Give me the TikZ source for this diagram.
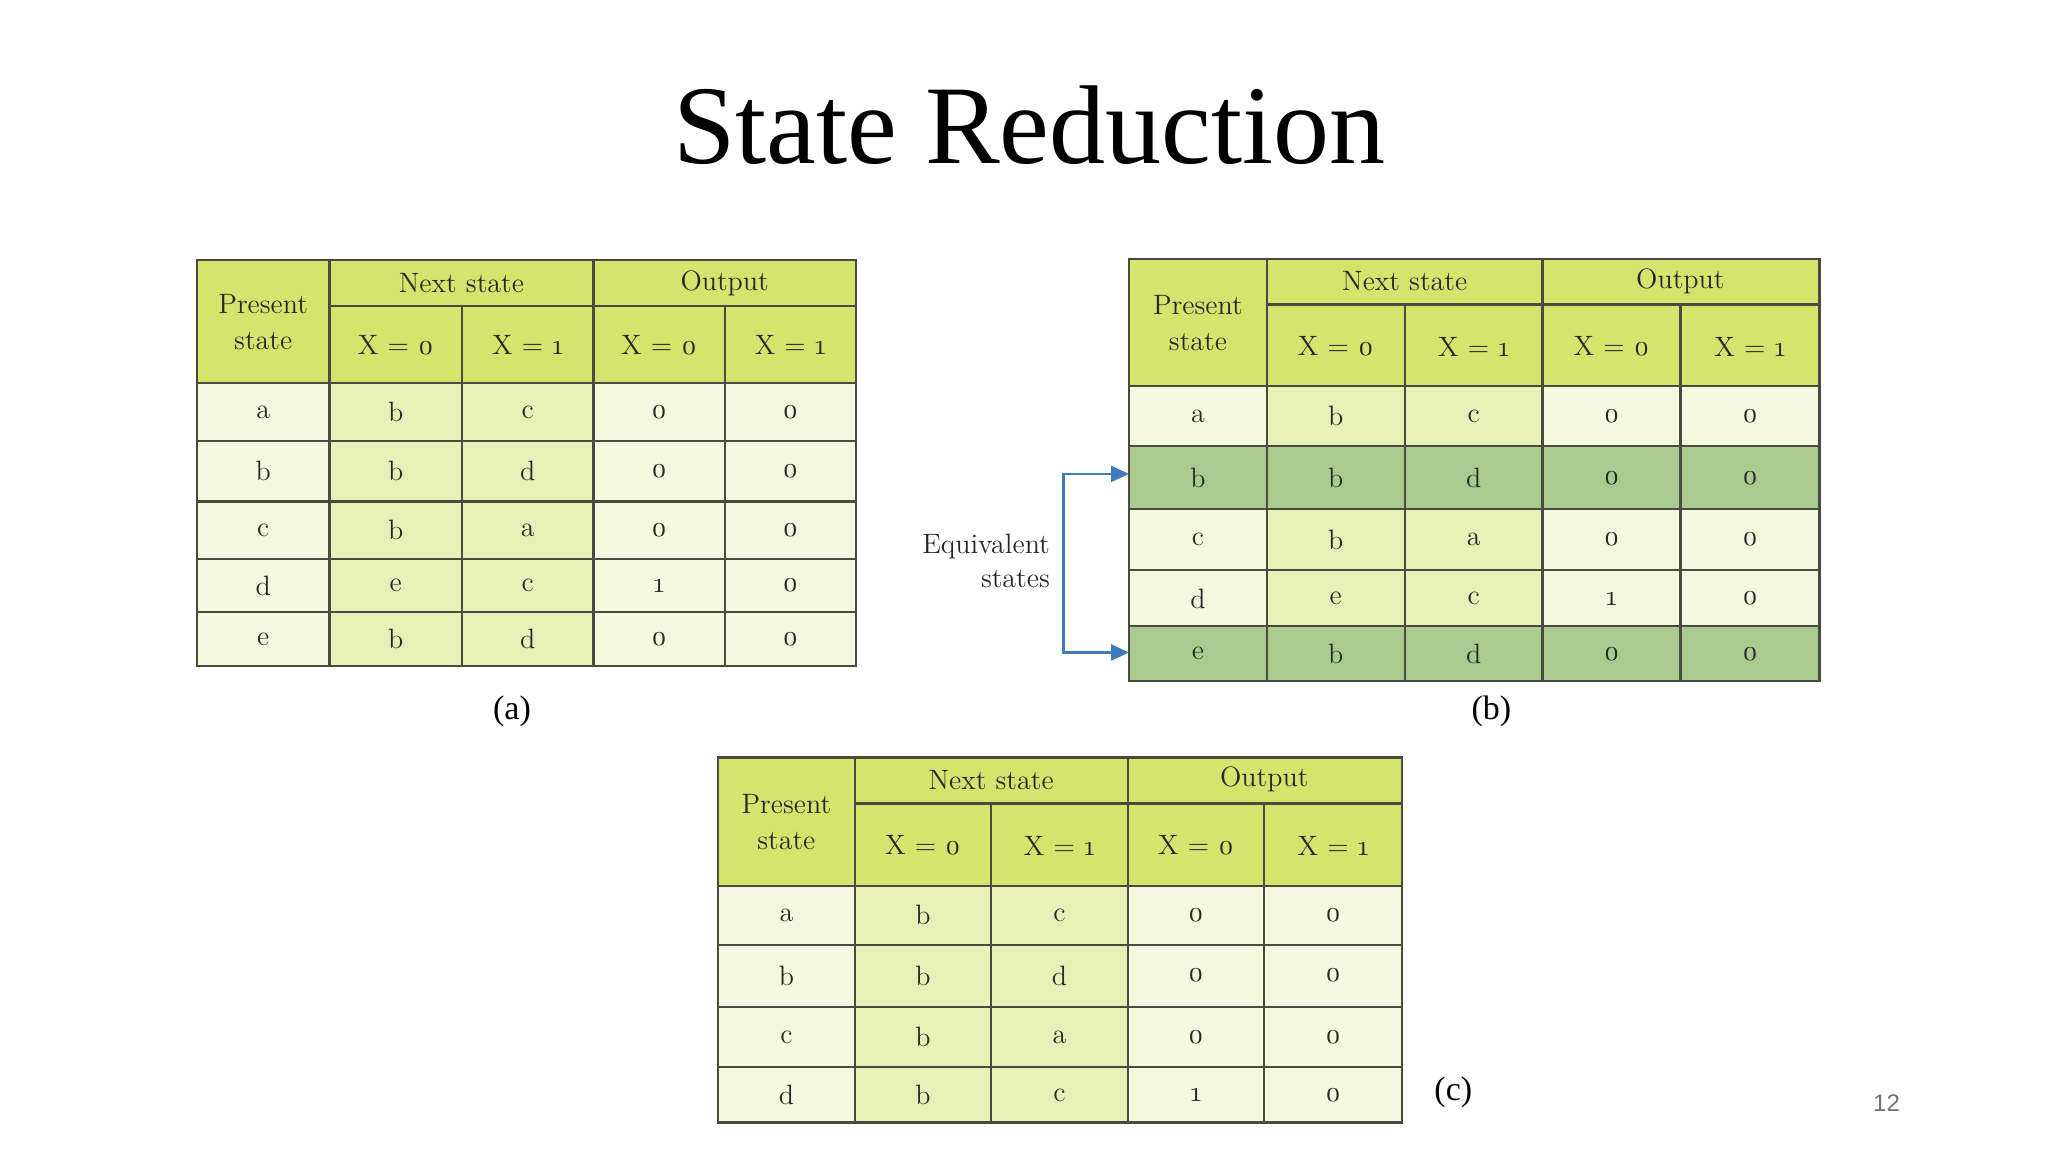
\documentclass[tikz,border=0pt]{standalone}
\usepackage{fontspec}
\setmainfont{Liberation Serif}
\newfontfamily\tabfont{Latin Modern Roman}
\newfontfamily\pgfont{Liberation Sans}
\usetikzlibrary{arrows.meta}
\definecolor{hdr}{HTML}{D4E46C}
\definecolor{lt}{HTML}{F4F8DE}
\definecolor{md}{HTML}{E7F0B6}
\definecolor{eqc}{HTML}{A9CB8E}
\definecolor{gridc}{HTML}{4A4A40}
\definecolor{arrc}{HTML}{3F7DB8}
\tikzset{
  grid/.style={draw=gridc,line width=1.1pt},
  cell/.style={font=\tabfont\fontsize{14}{16}\selectfont,text=black!85,inner sep=0pt},
  captext/.style={font=\fontsize{17}{20}\selectfont,inner sep=0pt},
}
\newcommand\onum[1]{\oldstylenums{#1}}
\begin{document}
\begin{tikzpicture}[x=0.6564pt,y=-0.6564pt]
\useasboundingbox (0,0) rectangle (1560,877.5);
\node[font=\fontsize{56}{60}\selectfont] (title) at (784,95) {State Reduction};

% ---------- table (a)
\fill[hdr] (150,198) rectangle (652,292);
\fill[lt] (150,292) rectangle (652,507);
\fill[md] (251,292) rectangle (452,507);
\draw[grid] (150,198) rectangle (652,507);
\draw[grid] (251,198) -- (251,507) (452,198) -- (452,507) (352,233) -- (352,507) (552,233) -- (552,507)
  (251,233) -- (652,233);
\foreach \y in {292,336,382,426,466} \draw[grid] (150,\y) -- (652,\y);
\node[cell,align=center] (aP) at (200.5,245) {Present\\[2pt]state};
\node[cell] (aN) at (351.5,216) {Next state};
\node[cell] (aO) at (552,216) {Output};
\foreach \x/\t [count=\i] in {301.5/X = \onum{0},402/X = \onum{1},502/X = \onum{0},602/X = \onum{1}}
  \node[cell] (ah\i) at (\x,263) {\t};
\foreach \y/\a/\b/\c/\d/\e [count=\r] in {314/a/b/c/\onum{0}/\onum{0},359/b/b/d/\onum{0}/\onum{0},404/c/b/a/\onum{0}/\onum{0},446/d/e/c/\onum{1}/\onum{0},487/e/b/d/\onum{0}/\onum{0}}{
  \node[cell] (a\r1) at (200.5,\y) {\a};
  \node[cell] (a\r2) at (301.5,\y) {\b};
  \node[cell] (a\r3) at (402,\y) {\c};
  \node[cell] (a\r4) at (502,\y) {\d};
  \node[cell] (a\r5) at (602,\y) {\e};
}
\node[captext] (capa) at (390,542) {(a)};

% ---------- table (b)
\fill[hdr] (860,197) rectangle (1386,294);
\fill[lt] (860,294) rectangle (1386,519);
\fill[md] (965,294) rectangle (1175,519);
\fill[eqc] (860,340) rectangle (1386,388);
\fill[eqc] (860,477) rectangle (1386,519);
\draw[grid] (860,197) rectangle (1386,519);
\draw[grid] (965,197) -- (965,519) (1175,197) -- (1175,519) (1070,232) -- (1070,519) (1280,232) -- (1280,519)
  (965,232) -- (1386,232);
\foreach \y in {294,340,388,434,477} \draw[grid] (860,\y) -- (1386,\y);
\node[cell,align=center] (bP) at (912.5,246) {Present\\[2pt]state};
\node[cell] (bN) at (1070,214) {Next state};
\node[cell] (bO) at (1280,214) {Output};
\foreach \x/\t [count=\i] in {1017.5/X = \onum{0},1122.5/X = \onum{1},1227.5/X = \onum{0},1333/X = \onum{1}}
  \node[cell] (bh\i) at (\x,264) {\t};
\foreach \y/\a/\b/\c/\d/\e [count=\r] in {317/a/b/c/\onum{0}/\onum{0},364/b/b/d/\onum{0}/\onum{0},411/c/b/a/\onum{0}/\onum{0},456/d/e/c/\onum{1}/\onum{0},498/e/b/d/\onum{0}/\onum{0}}{
  \node[cell] (b\r1) at (912.5,\y) {\a};
  \node[cell] (b\r2) at (1017.5,\y) {\b};
  \node[cell] (b\r3) at (1122.5,\y) {\c};
  \node[cell] (b\r4) at (1227.5,\y) {\d};
  \node[cell] (b\r5) at (1333,\y) {\e};
}
\node[captext] (capb) at (1136,542) {(b)};
\node[cell,align=right,anchor=east] (eq) at (800,427) {Equivalent\\[1pt]states};
\coordinate (bl) at (860,361);
\coordinate (el) at (860,497);
\coordinate (bk1) at (810,361);
\coordinate (bk2) at (810,497);
\draw[arrc,line width=1.2pt,{Triangle[length=9pt,width=8pt]}-{Triangle[length=9pt,width=8pt]}] (bl) -- (bk1) -- (bk2) -- (el);

% ---------- table (c)
\fill[hdr] (547,577) rectangle (1068,675);
\fill[lt] (547,675) rectangle (1068,855);
\fill[md] (651,675) rectangle (859,855);
\draw[grid] (547,577) rectangle (1068,855);
\draw[grid] (651,577) -- (651,855) (859,577) -- (859,855) (755,612) -- (755,855) (963,612) -- (963,855)
  (651,612) -- (1068,612);
\foreach \y in {675,720,767,813} \draw[grid] (547,\y) -- (1068,\y);
\node[cell,align=center] (cP) at (599,626) {Present\\[2pt]state};
\node[cell] (cN) at (755,594) {Next state};
\node[cell] (cO) at (963,594) {Output};
\foreach \x/\t [count=\i] in {703/X = \onum{0},807/X = \onum{1},911/X = \onum{0},1015.5/X = \onum{1}}
  \node[cell] (ch\i) at (\x,644) {\t};
\foreach \y/\a/\b/\c/\d/\e [count=\r] in {697/a/b/c/\onum{0}/\onum{0},743/b/b/d/\onum{0}/\onum{0},790/c/b/a/\onum{0}/\onum{0},834/d/b/c/\onum{1}/\onum{0}}{
  \node[cell] (c\r1) at (599,\y) {\a};
  \node[cell] (c\r2) at (703,\y) {\b};
  \node[cell] (c\r3) at (807,\y) {\c};
  \node[cell] (c\r4) at (911,\y) {\d};
  \node[cell] (c\r5) at (1015.5,\y) {\e};
}
\node[captext] (capc) at (1107,832) {(c)};
\node[font=\pgfont\fontsize{12}{14}\selectfont,text=black!55] (pg) at (1437,840) {12};
\end{tikzpicture}
\end{document}
